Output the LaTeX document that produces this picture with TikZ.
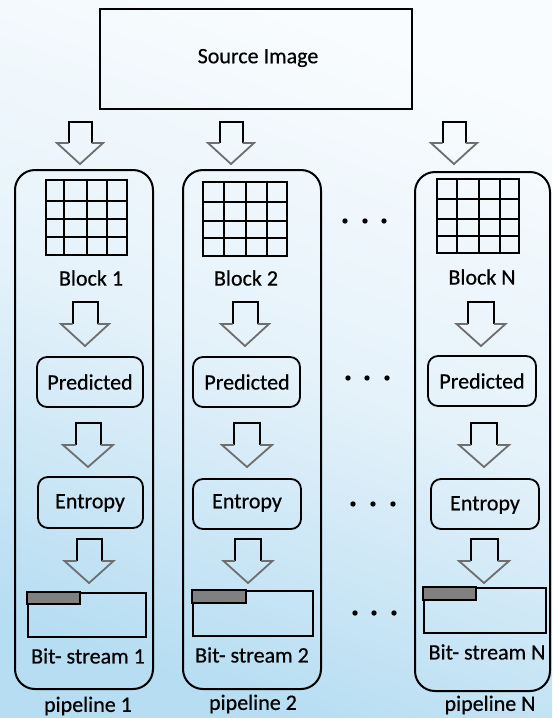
\documentclass[tikz,border=0pt]{standalone}
\usepackage{fontspec}
\setmainfont{Carlito}[FakeBold=0.5]
\usetikzlibrary{fit}
\definecolor{bgtop}{RGB}{249,252,254}
\definecolor{bgmid}{RGB}{229,242,250}
\definecolor{bgbot}{RGB}{182,221,242}
\definecolor{headgray}{RGB}{110,110,110}
\definecolor{bargray}{RGB}{128,128,128}
\tikzset{
  lbl/.style={font=\fontsize{22}{24}\selectfont, inner sep=0pt},
  boxfit/.style={fit={#1}, inner sep=0pt},
  srcbox/.style={draw, line width=2pt},
  pipebox/.style={draw, line width=2pt, rounded corners=20pt},
  stagebox/.style={draw, line width=1.8pt, rounded corners=10pt},
  gridbox/.style={draw, line width=2.2pt},
  bitbox/.style={draw, line width=2.2pt},
  gridline/.style={line width=2pt},
  stemline/.style={line width=2pt, black},
  headline/.style={line width=1.8pt, headgray, line join=miter},
  pics/downarrow/.style n args={3}{code={
    \draw[stemline] (-#1,#3/2) -- (-#1,0) -- (#1,0) -- (#1,#3/2);
    \draw[headline] (-#1,#3/2) -- (-#2,#3/2) -- (0,#3) -- (#2,#3/2) -- (#1,#3/2);
  }}
}
\begin{document}
\begin{tikzpicture}[x=1pt,y=-1pt]
% background
\shade[top color=bgtop, bottom color=bgbot, middle color=bgmid, shading angle=-20]
  (0,0) rectangle (552,718);
\useasboundingbox (0,0) rectangle (552,718);

% source
\node[srcbox, boxfit={(100,9) (412,109)}] (src) {};
\node[lbl] (srct) at (258,58) {Source Image};

% pipelines
\node[pipebox, boxfit={(15,170) (153,689)}] (pipe1) {};
\node[pipebox, boxfit={(183,170) (321,689)}] (pipe2) {};
\node[pipebox, boxfit={(415,172) (550,691)}] (pipeN) {};

% top arrows
\pic at (80,122) {downarrow={11.5}{23}{42}};
\pic at (231,122) {downarrow={11.5}{23}{42}};
\pic at (454,122) {downarrow={11.5}{23}{42}};

% blocks (4x4 grids)
\node[gridbox, boxfit={(46,180) (127,255)}] (grid1) {};
\foreach \gx in {64,87,107} \draw[gridline] (\gx,180) -- (\gx,255);
\foreach \gy in {201,219,237} \draw[gridline] (46,\gy) -- (127,\gy);
\node[gridbox, boxfit={(203,182) (287,256)}] (grid2) {};
\foreach \gx in {224,246,267} \draw[gridline] (\gx,182) -- (\gx,256);
\foreach \gy in {202,221,238} \draw[gridline] (203,\gy) -- (287,\gy);
\node[gridbox, boxfit={(437,179) (519,253)}] (gridN) {};
\foreach \gx in {457,479,500} \draw[gridline] (\gx,179) -- (\gx,253);
\foreach \gy in {199,219,236} \draw[gridline] (437,\gy) -- (519,\gy);

\node[lbl] (blk1) at (91,278) {Block 1};
\node[lbl] (blk2) at (246,278) {Block 2};
\node[lbl] (blkN) at (482,277) {Block N};

% block -> predicted
\pic at (85,302) {downarrow={12.5}{24}{44}};
\pic at (245,302) {downarrow={12.5}{24}{44}};
\pic at (481,302) {downarrow={13}{24.5}{44}};

\node[stagebox, boxfit={(37,357) (143,407)}] (pred1) {};
\node[stagebox, boxfit={(193,357) (300,407)}] (pred2) {};
\node[stagebox, boxfit={(428,356) (536,406)}] (predN) {};
\node[lbl] (pt1) at (90,382) {Predicted};
\node[lbl] (pt2) at (247,382) {Predicted};
\node[lbl] (ptN) at (482,381) {Predicted};

% predicted -> entropy
\pic at (88,423) {downarrow={12.5}{25}{44}};
\pic at (247,423) {downarrow={13}{25}{44}};
\pic at (484,423) {downarrow={13}{25}{44}};

\node[stagebox, boxfit={(38,477) (143,528)}] (ent1) {};
\node[stagebox, boxfit={(193,479) (301,529)}] (ent2) {};
\node[stagebox, boxfit={(431,479) (539,529)}] (entN) {};
\node[lbl] (et1) at (90,503) {Entropy};
\node[lbl] (et2) at (247,503) {Entropy};
\node[lbl] (etN) at (485,505) {Entropy};

% entropy -> bit-stream
\pic at (89,539) {downarrow={12.5}{24.5}{44}};
\pic at (248,539) {downarrow={13}{24.5}{44}};
\pic at (484,539) {downarrow={13.5}{25}{44}};

% bit-streams
\node[bitbox, boxfit={(28,593) (146,637)}] (bit1) {};
\draw[line width=2pt, fill=bargray] (bit1.north west) rectangle ++(53,12);
\node[bitbox, boxfit={(193,591) (313,636)}] (bit2) {};
\draw[line width=2pt, fill=bargray] (bit2.north west) rectangle ++(54,13);
\node[bitbox, boxfit={(424,588) (546,633)}] (bitN) {};
\draw[line width=2pt, fill=bargray] (bitN.north west) rectangle ++(53,13);

\node[lbl] (bl1) at (88,656) {Bit- stream 1};
\node[lbl] (bl2) at (252,655) {Bit- stream 2};
\node[lbl] (blN) at (487,652) {Bit- stream N};

% pipeline labels
\node[lbl] (pl1) at (88,706) {pipeline 1};
\node[lbl] (pl2) at (253,704) {pipeline 2};
\node[lbl] (plN) at (490,705) {pipeline N};

% ellipsis dots
\foreach \dx/\dy in {345/221,365/221,384/221,
                     348/378,367/378,387/378,
                     353/504,373/504,393/504,
                     355/613,374/613,394/613}
  \fill (\dx,\dy) circle (2.7pt);
\end{tikzpicture}
\end{document}
